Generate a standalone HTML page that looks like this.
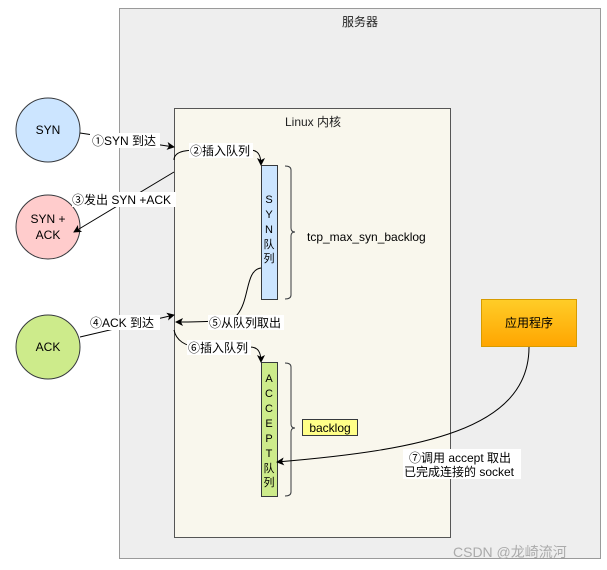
<!DOCTYPE html>
<html><head><meta charset="utf-8"><style>
html,body{margin:0;padding:0;background:#fff;}
svg{display:block;font-family:"Liberation Sans","Noto Sans CJK SC",sans-serif;}
</style></head><body>
<svg width="607" height="570" viewBox="0 0 607 570" xmlns="http://www.w3.org/2000/svg">
<defs>
<marker id="a" markerWidth="8" markerHeight="8" refX="7" refY="4" orient="auto" markerUnits="userSpaceOnUse"><path d="M0,0 L8,4 L0,8 L2,4 z" fill="#000"/></marker>
<linearGradient id="g" x1="0" y1="0" x2="0" y2="1"><stop offset="0" stop-color="#ffcd28"/><stop offset="1" stop-color="#ffa500"/></linearGradient>
</defs>
<rect x="119.5" y="8.5" width="481" height="550" fill="#eeeeee" stroke="#9a9a9a"/>
<text x="360" y="26" font-size="12" text-anchor="middle" fill="#222">服务器</text>
<rect x="174.5" y="108.5" width="276" height="429" fill="#f9f7ed" stroke="#555"/>
<text x="313" y="126" font-size="12" text-anchor="middle" fill="#222">Linux 内核</text>

<circle cx="48" cy="130" r="32" fill="#cce5ff" stroke="#36393d"/>
<text x="48" y="134" font-size="12" text-anchor="middle">SYN</text>
<circle cx="48" cy="227" r="32" fill="#ffcccc" stroke="#36393d"/>
<text x="48" y="223" font-size="12" text-anchor="middle">SYN +</text>
<text x="48" y="239" font-size="12" text-anchor="middle">ACK</text>
<circle cx="48" cy="347" r="32" fill="#cdeb8b" stroke="#36393d"/>
<text x="48" y="351" font-size="12" text-anchor="middle">ACK</text>

<rect x="261.5" y="165.5" width="16" height="134" fill="#cce5ff" stroke="#36393d"/>
<g font-size="11" text-anchor="middle"><text x="269" y="203">S</text><text x="269" y="218">Y</text><text x="269" y="233">N</text><text x="269" y="248">队</text><text x="269" y="262">列</text></g>
<rect x="261.5" y="362.5" width="16" height="134" fill="#cdeb8b" stroke="#36393d"/>
<g font-size="11" text-anchor="middle"><text x="269" y="382">A</text><text x="269" y="397">C</text><text x="269" y="412">C</text><text x="269" y="427">E</text><text x="269" y="442">P</text><text x="269" y="457">T</text><text x="269" y="472">队</text><text x="269" y="486">列</text></g>

<path d="M285,166 q6,0 6,4 L291,228 q0,4 4,4 q-4,0 -4,4 L291,295 q0,4 -6,4" fill="none" stroke="#36393d"/>
<text x="307" y="241" font-size="12">tcp_max_syn_backlog</text>
<path d="M285,363 q6,0 6,4 L291,424 q0,4 4,4 q-4,0 -4,4 L291,492 q0,4 -6,4" fill="none" stroke="#36393d"/>
<rect x="302.5" y="419.5" width="55" height="16" fill="#ffff88" stroke="#36393d"/>
<text x="330" y="432" font-size="12" text-anchor="middle">backlog</text>

<rect x="481.5" y="299.5" width="95" height="47" fill="url(#g)" stroke="#d79b00"/>
<text x="529" y="327" font-size="12" text-anchor="middle">应用程序</text>

<g fill="none" stroke="#000" stroke-width="1">
<path d="M80,133 L174,147" marker-end="url(#a)"/>
<path d="M174,160 C174,150 190,150 200,150 L250,150 C258,150 261,155 261,165" marker-end="url(#a)"/>
<path d="M174,172 L74,232" marker-end="url(#a)"/>
<path d="M80,337 L174,315" marker-end="url(#a)"/>
<path d="M261,268 C245,270 250,300 237,315 C230,322 200,322 176,322" marker-end="url(#a)"/>
<path d="M174,330 C176,340 185,347 200,347 L250,347 C258,347 261,352 261,362" marker-end="url(#a)"/>
<path d="M529,347 C529,430 420,450 277,462" marker-end="url(#a)"/>
</g>
<g font-size="12">
<rect x="90" y="133" width="70" height="15" fill="#fff"/><text x="92" y="145">①SYN 到达</text>
<rect x="189" y="143" width="64" height="15" fill="#fff"/><text x="190" y="155">②插入队列</text>
<rect x="72" y="192" width="104" height="15" fill="#fff"/><text x="72" y="204">③发出 SYN +ACK</text>
<rect x="90" y="315" width="70" height="15" fill="#fff"/><text x="90" y="327">④ACK 到达</text>
<rect x="208" y="315" width="76" height="15" fill="#fff"/><text x="209" y="327">⑤从队列取出</text>
<rect x="187" y="340" width="64" height="15" fill="#fff"/><text x="188" y="352">⑥插入队列</text>
<rect x="403" y="449" width="118" height="30" fill="#fff"/>
<text x="409" y="462">⑦调用 accept 取出</text>
<text x="404" y="476">已完成连接的 socket</text>
</g>
<text x="453" y="557" font-size="14" fill="#aaa">CSDN @龙崎流河</text>
</svg>
</body></html>
